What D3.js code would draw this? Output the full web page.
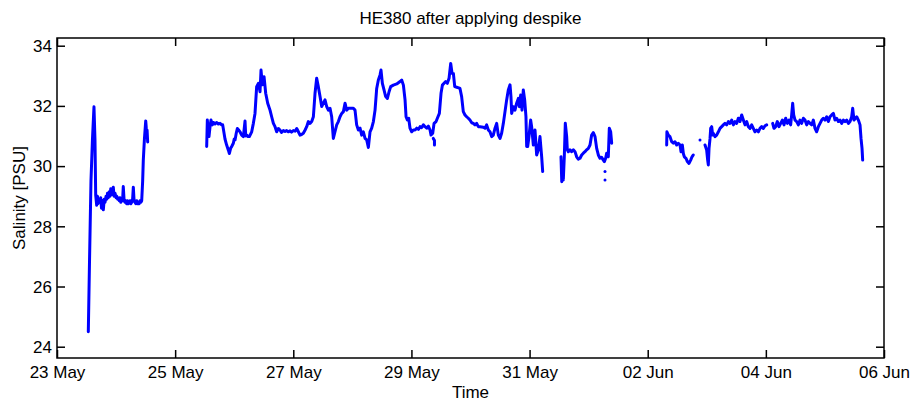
<!DOCTYPE html>
<html>
<head>
<meta charset="utf-8">
<script src="https://cdn.jsdelivr.net/npm/d3@7"></script>
<style>
  body { margin: 0; background: #fff; }
  svg { font-family: "Liberation Sans", Arial, Helvetica, sans-serif; }
  .axis text { font-size: 17px; fill: #000; }
  .axis line { stroke: #000; stroke-width: 1.5; }
</style>
</head>
<body>
<div id="chart"></div>
<script>
// time is in days after 23 May 00:00 (UTC), salinity in PSU
var start_date = Date.UTC(2012, 4, 23);
var tick_days = [0, 2, 4, 6, 8, 10, 12, 14];
var y_ticks = [24, 26, 28, 30, 32, 34];

var seg1 = [[0.53,24.5],[0.55,26.8],[0.575,29.5],[0.60,30.87],[0.626,31.97],[0.643,30.87],[0.655,29.04],[0.672,28.7],
  [0.685,29.0],[0.694,28.75],[0.71,28.9],[0.728,28.8],[0.74,28.95],[0.753,28.6],[0.77,28.85],[0.784,28.55],[0.80,28.9],
  [0.813,28.8],[0.83,29.0],[0.841,28.9],[0.855,29.1],[0.868,28.95],[0.885,29.15],[0.897,29.0],[0.91,29.25],[0.926,29.05],
  [0.94,29.2],[0.953,29.3],[0.965,29.0],[0.982,29.1],[1.0,28.95],[1.011,29.0],[1.025,28.9],[1.038,28.95],[1.055,28.85],
  [1.067,28.95],[1.08,28.8],[1.095,28.9],[1.11,28.85],[1.122,29.32],[1.135,28.9],[1.151,28.8],[1.165,28.85],[1.18,28.75],
  [1.195,28.85],[1.207,28.75],[1.225,28.8],[1.236,28.85],[1.25,28.75],[1.265,28.8],[1.28,28.9],[1.292,29.3],[1.305,28.85],
  [1.32,28.8],[1.335,28.75],[1.349,28.85],[1.365,28.75],[1.376,28.8],[1.39,28.75],[1.405,28.85],[1.42,28.8],[1.434,28.85],
  [1.45,29.5],[1.461,30.2],[1.48,30.9],[1.502,31.5],[1.51,31.3],[1.515,31.0],[1.525,31.2],[1.535,30.8]];

var seg2 = [[2.534,30.65],[2.545,31.53],[2.56,31.2],[2.573,30.98],[2.59,31.3],[2.607,31.53],[2.63,31.37],[2.65,31.45],
  [2.675,31.4],[2.70,31.45],[2.731,31.4],[2.76,31.42],[2.788,31.37],[2.805,31.37],[2.844,30.9],[2.872,30.7],[2.901,30.53],
  [2.918,30.42],[2.94,30.6],[2.957,30.65],[2.985,30.76],[3.0,30.9],[3.014,30.87],[3.035,31.1],[3.053,31.25],[3.075,31.2],
  [3.098,31.14],[3.126,31.03],[3.155,30.98],[3.183,31.5],[3.195,31.0],[3.211,31.03],[3.235,30.98],[3.256,30.98],[3.296,31.14],
  [3.324,31.42],[3.352,31.75],[3.38,32.64],[3.409,32.75],[3.437,32.47],[3.454,33.19],[3.476,32.7],[3.505,32.97],[3.533,32.42],
  [3.567,32.09],[3.606,31.86],[3.634,31.64],[3.663,31.42],[3.691,31.31],[3.719,31.14],[3.747,31.25],[3.775,31.2],[3.80,31.12],
  [3.832,31.18],[3.86,31.15],[3.888,31.18],[3.915,31.14],[3.945,31.17],[3.97,31.13],[4.001,31.18],[4.03,31.16],[4.058,31.25],
  [4.086,31.14],[4.114,31.03],[4.14,31.05],[4.17,31.09],[4.2,31.2],[4.227,31.31],[4.255,31.48],[4.283,31.42],[4.312,31.48],
  [4.34,31.64],[4.368,32.42],[4.396,32.92],[4.424,32.64],[4.453,32.31],[4.481,31.98],[4.509,32.09],[4.537,32.2],[4.565,31.98],
  [4.594,31.86],[4.622,31.92],[4.65,31.64],[4.678,30.92],[4.707,31.15],[4.735,31.37],[4.763,31.48],[4.791,31.64],[4.82,31.75],
  [4.848,31.81],[4.876,32.09],[4.904,31.86],[4.932,31.92],[4.961,31.92],[5.017,31.92],[5.045,31.86],[5.073,31.37],[5.102,31.2],
  [5.13,31.26],[5.158,31.03],[5.186,31.14],[5.215,30.92],[5.243,30.87],[5.271,30.62],[5.299,31.14],[5.327,31.26],[5.356,31.48],
  [5.384,31.86],[5.412,32.58],[5.44,32.86],[5.469,33.03],[5.485,33.19],[5.508,32.75],[5.536,32.53],[5.564,32.31],[5.593,32.25],
  [5.621,32.47],[5.649,32.64],[5.694,32.69],[5.751,32.73],[5.807,32.81],[5.835,32.86],[5.864,32.69],[5.892,32.2],[5.909,31.64],
  [5.931,31.53],[5.954,31.59],[5.976,31.26],[6.005,31.14],[6.033,31.2],[6.061,31.2],[6.089,31.26],[6.118,31.22],[6.146,31.31],
  [6.174,31.28],[6.202,31.37],[6.23,31.31],[6.259,31.26],[6.287,31.33],[6.315,31.2],[6.332,31.03],[6.36,31.09],[6.383,31.42],
  [6.417,31.48],[6.439,31.59],[6.473,31.75],[6.501,32.42],[6.524,32.69],[6.552,32.75],[6.58,32.81],[6.608,32.75],[6.637,32.92],
  [6.665,33.41],[6.688,33.08],[6.71,33.08],[6.733,32.64],[6.766,32.62],[6.80,32.6],[6.822,32.58],[6.85,32.31],[6.878,31.81],
  [6.907,31.7],[6.935,31.64],[6.963,31.59],[6.991,31.53],[7.02,31.44],[7.048,31.42],[7.076,31.37],[7.104,31.42],[7.132,31.31],
  [7.161,31.31],[7.19,31.3],[7.217,31.29],[7.245,31.26],[7.273,31.37],[7.302,31.2],[7.33,31.14],[7.358,30.98],[7.386,31.03],
  [7.415,31.26],[7.443,31.42],[7.471,31.03],[7.499,30.92],[7.527,31.09],[7.556,31.42],[7.584,31.81],[7.612,32.2],[7.64,32.53],
  [7.669,32.7],[7.685,32.31],[7.697,31.75],[7.725,31.975],[7.753,31.86],[7.781,32.09],[7.81,32.25],[7.827,31.975],[7.849,32.36],
  [7.872,31.86],[7.894,32.53],[7.917,32.2],[7.939,31.64],[7.951,30.65],[7.968,30.65],[7.99,30.98],[8.018,31.53],[8.035,31.31],
  [8.064,30.7],[8.092,31.2],[8.12,30.37],[8.148,30.54],[8.176,30.98],[8.205,30.31],[8.222,29.82]];

var seg3 = [[8.532,30.31],[8.545,29.48],[8.555,29.98],[8.571,29.54],[8.588,30.31],[8.605,31.42],[8.628,30.98],[8.639,30.54],
  [8.656,30.48],[8.684,30.54],[8.712,30.48],[8.741,30.54],[8.769,30.48],[8.797,30.31],[8.825,30.23],[8.854,30.26],[8.882,30.37],
  [8.91,30.43],[8.938,30.48],[8.966,30.54],[8.995,30.59],[9.023,30.7],[9.051,31.03],[9.079,31.11],[9.108,30.98],[9.136,30.59],
  [9.164,30.37],[9.192,30.26],[9.22,30.29],[9.249,30.2],[9.266,30.15],[9.288,30.26],[9.305,30.43],[9.333,30.31],[9.35,31.26],
  [9.373,31.14],[9.39,30.76]];

var seg4 = [[10.321,30.7],[10.325,31.14],[10.349,31.03],[10.377,30.98],[10.406,30.81],[10.434,30.76],[10.462,30.81],[10.49,30.7],
  [10.518,30.76],[10.547,30.7],[10.564,30.48],[10.586,30.7],[10.603,30.42],[10.62,30.31],[10.648,30.26],[10.671,30.15],
  [10.699,30.09],[10.727,30.2],[10.75,30.31],[10.772,30.37]];

var seg5 = [[10.97,30.7],[10.998,30.53],[11.015,30.2],[11.026,30.04],[11.038,30.59],[11.055,30.92],[11.066,31.255],[11.083,31.31],
  [11.1,31.03],[11.111,31.09],[11.139,30.98],[11.167,31.03],[11.196,31.14],[11.224,31.255],[11.252,31.31],[11.28,31.37],
  [11.308,31.42],[11.337,31.37],[11.365,31.48],[11.393,31.42],[11.421,31.53],[11.45,31.37],[11.478,31.48],[11.506,31.42],
  [11.534,31.59],[11.562,31.48],[11.591,31.70],[11.619,31.53],[11.647,31.37],[11.675,31.48],[11.704,31.31],[11.732,31.255],
  [11.76,31.37],[11.788,31.255],[11.816,31.14],[11.845,31.2],[11.873,31.14],[11.901,31.255],[11.929,31.31],[11.957,31.255],
  [11.986,31.34],[12.014,31.37]];

var seg6 = [[12.115,31.42],[12.138,31.255],[12.166,31.31],[12.194,31.48],[12.223,31.31],[12.251,31.42],[12.279,31.53],
  [12.307,31.37],[12.336,31.59],[12.364,31.42],[12.392,31.53],[12.42,31.37],[12.437,31.70],[12.454,32.085],[12.471,31.70],
  [12.494,31.53],[12.522,31.48],[12.55,31.37],[12.578,31.53],[12.606,31.42],[12.635,31.59],[12.663,31.53],[12.691,31.37],
  [12.719,31.48],[12.747,31.42],[12.776,31.37],[12.804,31.53],[12.832,31.255],[12.86,31.14],[12.889,31.31],[12.917,31.42],
  [12.945,31.53],[12.973,31.59],[13.001,31.53],[13.03,31.64],[13.058,31.48],[13.086,31.64],[13.114,31.70],[13.143,31.75],
  [13.171,31.53],[13.199,31.59],[13.227,31.48],[13.255,31.53],[13.284,31.42],[13.312,31.53],[13.34,31.48],[13.368,31.53],
  [13.397,31.42],[13.425,31.48],[13.453,31.64],[13.47,31.92],[13.492,31.53],[13.515,31.59],[13.538,31.64],[13.566,31.53],
  [13.594,31.37],[13.611,30.92],[13.628,30.59],[13.639,30.2]];

// short pieces and lone samples
var bits = [[[6.37,30.92],[6.39,30.85],[6.39,30.7]]];
var lone = [[9.277,29.82],[9.277,29.54],[10.885,30.87]];

var segments = [seg1, seg2, seg3, seg4, seg5, seg6].concat(bits);

function toDate(d) { return new Date(start_date + d * 864e5); }

var total_w = 916, total_h = 403;
var margin = {top: 38, right: 32, bottom: 45, left: 57};
var w = total_w - margin.left - margin.right;
var h = total_h - margin.top - margin.bottom;

var svg = d3.select("#chart").append("svg")
    .attr("width", total_w)
    .attr("height", total_h);

var g = svg.append("g")
    .attr("transform", "translate(" + margin.left + "," + margin.top + ")");

var xscale = d3.scaleUtc()
    .domain([toDate(0), toDate(14)])
    .range([0, w]);

var yscale = d3.scaleLinear()
    .domain([23.625, 34.256])
    .range([h, 0]);

var tick_dates = tick_days.map(toDate);

var xaxis = d3.axisBottom(xscale)
    .tickValues(tick_dates)
    .tickFormat(d3.utcFormat("%d %b"))
    .tickSizeInner(-8).tickSizeOuter(0).tickPadding(8);

var yaxis = d3.axisLeft(yscale)
    .tickValues(y_ticks)
    .tickFormat(d3.format("d"))
    .tickSizeInner(-8).tickSizeOuter(0).tickPadding(5);

var gx = g.append("g").attr("class", "axis")
    .attr("transform", "translate(0," + h + ")")
    .call(xaxis);
gx.selectAll("text").attr("dy", "0.71em");

var gy = g.append("g").attr("class", "axis").call(yaxis);
gy.selectAll("text").attr("dy", "0.34em");

g.append("g").attr("class", "axis")
    .call(d3.axisTop(xscale).tickValues(tick_dates).tickFormat("").tickSizeInner(-8).tickSizeOuter(0));

g.append("g").attr("class", "axis")
    .attr("transform", "translate(" + w + ",0)")
    .call(d3.axisRight(yscale).tickValues(y_ticks).tickFormat("").tickSizeInner(-8).tickSizeOuter(0));

g.selectAll(".axis .domain").remove();

g.append("rect")
    .attr("width", w)
    .attr("height", h)
    .attr("fill", "none")
    .attr("stroke", "#000")
    .attr("stroke-width", 1.5);

// Salinity line
var line = d3.line()
    .x(function(d) { return xscale(toDate(d[0])); })
    .y(function(d) { return yscale(d[1]); });

g.selectAll(".seg")
    .data(segments)
    .enter()
    .append("path")
    .attr("class", "seg")
    .attr("d", line)
    .attr("fill", "none")
    .attr("stroke", "#0000ff")
    .attr("stroke-width", 3)
    .attr("stroke-linejoin", "round")
    .attr("stroke-linecap", "round");

g.selectAll(".lone")
    .data(lone)
    .enter()
    .append("circle")
    .attr("class", "lone")
    .attr("cx", function(d) { return xscale(toDate(d[0])); })
    .attr("cy", function(d) { return yscale(d[1]); })
    .attr("r", 1.5)
    .attr("fill", "#0000ff");

// Labels
svg.append("text")
    .attr("x", margin.left + w / 2)
    .attr("y", 24)
    .attr("text-anchor", "middle")
    .style("font-size", "17px")
    .text("HE380 after applying despike");

svg.append("text")
    .attr("x", margin.left + w / 2)
    .attr("y", 398)
    .attr("text-anchor", "middle")
    .style("font-size", "17px")
    .text("Time");

svg.append("text")
    .attr("transform", "translate(25," + (margin.top + h / 2) + ") rotate(-90)")
    .attr("text-anchor", "middle")
    .style("font-size", "17px")
    .text("Salinity [PSU]");
</script>
</body>
</html>
